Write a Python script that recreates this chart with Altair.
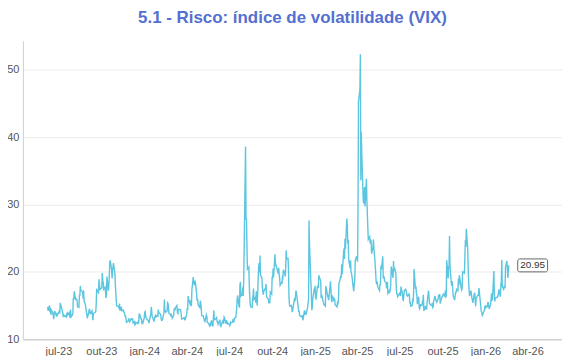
import altair as alt
import pandas as pd
import numpy as np

title_text = "5.1 - Risco: índice de volatilidade (VIX)"
first_day = "2023-06-08"
last_day = "2026-02-20"

month_pt = ["jan", "fev", "mar", "abr", "mai", "jun", "jul", "ago", "set", "out", "nov", "dez"]

vix_2023 = {
    "06": [14.8, 14.2, 15.0, 14.0, 14.6, 13.6, 14.3, 13.9, 13.5, 12.95, 13.8, 14.2, 13.6, 13.9, 13.4, 13.6, 13.7],
    "07": [14.2, 13.8, 15.4, 14.8, 14.9, 14.0, 13.5, 13.6, 13.4, 13.5, 13.3, 13.8, 13.9, 13.6, 13.9, 13.5, 13.2, 14.4, 13.3, 13.6],
    "08": [13.9, 16.1, 15.9, 17.1, 15.8, 16.0, 15.9, 15.8, 14.8, 14.7, 16.5, 16.5, 17.9, 17.3, 17.1, 16.9, 16.0, 17.2, 15.7, 15.1, 14.4, 14.0, 13.6],
    "09": [13.1, 14.0, 14.4, 14.4, 13.8, 13.8, 14.2, 13.5, 12.8, 13.8, 14.0, 14.1, 15.1, 17.5, 17.2, 16.9, 18.9, 18.2, 17.3, 17.5],
    "10": [17.6, 19.8, 18.6, 18.5, 17.4, 17.7, 17.0, 16.1, 16.7, 19.3, 17.2, 17.9, 19.2, 21.4, 21.7, 20.4, 19.0, 20.2, 20.7, 21.3, 19.8, 18.1],
    "11": [16.9, 15.7, 14.9, 14.9, 14.8, 14.5, 15.3, 14.2, 14.8, 14.2, 14.2, 14.3, 13.8, 13.4, 13.4, 12.9, 12.5, 12.7, 12.7, 13.0, 12.9],
    "12": [12.6, 13.0, 12.9, 12.9, 13.1, 12.4, 12.6, 12.1, 12.2, 12.5, 12.3, 12.6, 12.5, 13.7, 13.7, 13.0, 13.0, 12.4, 12.5, 12.4],
}

vix_2024 = {
    "01": [13.2, 14.0, 14.1, 13.4, 13.1, 12.8, 12.7, 12.4, 12.7, 13.8, 14.8, 14.1, 13.3, 13.2, 12.6, 13.1, 13.5, 13.3, 13.6, 13.3, 14.4],
    "02": [13.9, 13.9, 13.7, 13.1, 12.8, 12.8, 12.9, 13.9, 15.9, 14.4, 14.0, 14.2, 15.4, 15.3, 14.5, 13.8, 13.7, 13.4, 13.8, 13.4],
    "03": [13.1, 13.5, 14.5, 14.5, 14.4, 14.7, 15.0, 13.9, 13.8, 14.4, 14.4, 14.3, 13.8, 13.0, 13.0, 13.1, 13.2, 13.2, 12.8, 13.0],
    "04": [13.7, 14.6, 14.3, 16.4, 16.0, 15.2, 15.0, 15.8, 14.9, 17.3, 19.2, 18.4, 18.2, 18.0, 18.7, 16.9, 15.7, 16.0, 15.4, 15.0, 14.7, 15.7],
    "05": [15.4, 14.7, 13.5, 13.5, 13.2, 13.0, 12.7, 12.6, 13.6, 13.4, 12.5, 12.4, 12.0, 12.2, 11.9, 12.3, 12.8, 11.9, 12.9, 14.3, 13.0, 12.9],
    "06": [13.1, 13.2, 12.6, 12.6, 12.2, 12.7, 12.9, 12.0, 11.9, 12.7, 12.8, 12.3, 13.3, 13.2, 12.3, 12.8, 12.6, 12.2, 12.4],
    "07": [12.2, 12.0, 12.1, 12.5, 12.4, 12.5, 12.9, 12.9, 12.5, 13.1, 13.2, 14.5, 15.9, 16.5, 14.9, 14.7, 18.0, 18.5, 16.4, 16.6, 17.7, 16.4],
    "08": [18.6, 23.4, 38.6, 27.7, 27.9, 23.8, 20.4, 20.7, 18.1, 16.2, 15.2, 14.8, 14.7, 16.0, 16.3, 17.5, 15.9, 16.2, 15.4, 17.1, 15.7, 15.0],
    "09": [20.7, 21.3, 19.9, 22.4, 19.5, 19.1, 17.7, 17.1, 16.6, 17.1, 17.6, 18.2, 16.3, 16.2, 15.9, 15.4, 15.4, 15.4, 17.0, 16.7],
    "10": [19.3, 18.9, 20.5, 19.2, 22.6, 21.4, 20.9, 20.9, 20.5, 19.7, 20.6, 19.6, 19.1, 18.0, 18.4, 18.2, 19.2, 19.1, 20.3, 19.8, 19.3, 20.4, 23.2],
    "11": [21.9, 22.0, 20.5, 16.3, 15.2, 14.9, 15.0, 14.7, 14.0, 14.3, 16.1, 15.6, 16.4, 17.2, 16.9, 15.2, 14.6, 14.1, 14.1, 13.5],
    "12": [13.3, 13.3, 13.5, 13.5, 12.8, 14.2, 14.2, 13.6, 13.9, 13.8, 14.7, 15.9, 27.6, 24.1, 18.4, 16.8, 14.3, 14.7, 16.0, 17.4, 17.4],
}

vix_2025 = {
    "01": [17.9, 16.1, 16.0, 17.8, 17.7, 19.5, 19.2, 18.7, 16.1, 16.6, 16.0, 15.1, 15.1, 15.0, 14.9, 17.9, 16.4, 16.6, 15.8, 16.4],
    "02": [18.6, 17.2, 15.8, 15.5, 16.5, 15.8, 16.0, 15.9, 15.1, 14.8, 15.4, 15.3, 15.7, 18.2, 19.0, 19.4, 19.1, 21.1, 19.6],
    "03": [22.8, 23.5, 21.9, 24.9, 23.4, 27.9, 26.9, 24.2, 24.7, 21.8, 20.5, 21.7, 19.9, 19.8, 19.3, 17.5, 17.1, 18.3, 18.7, 21.7, 22.3],
    "04": [21.8, 21.5, 30.0, 45.3, 47.0, 52.3, 33.6, 40.7, 37.6, 30.9, 30.1, 32.6, 29.7, 33.8, 30.6, 28.5, 26.5, 24.8, 25.2, 24.2, 24.7],
    "05": [24.6, 22.7, 23.6, 24.8, 23.6, 22.5, 21.9, 18.4, 18.2, 18.6, 17.8, 17.2, 18.1, 18.1, 20.9, 20.3, 22.3, 19.0, 19.3, 19.2, 18.6],
    "06": [18.4, 17.7, 17.6, 18.5, 16.8, 17.2, 17.0, 17.3, 18.0, 20.8, 19.1, 21.6, 20.1, 20.6, 19.8, 17.5, 16.8, 16.6, 16.3, 16.7],
    "07": [16.8, 16.6, 16.4, 17.8, 16.8, 15.9, 15.8, 16.4, 17.2, 17.4, 17.2, 16.5, 16.4, 16.7, 16.5, 15.4, 15.4, 14.9, 15.0, 16.0, 15.5, 16.7],
    "08": [20.4, 17.5, 17.9, 16.8, 16.6, 15.2, 16.3, 14.7, 14.5, 14.8, 15.1, 15.0, 15.6, 15.7, 16.6, 14.2, 14.8, 14.6, 14.9, 14.4, 15.4],
    "09": [17.2, 16.4, 15.3, 15.2, 15.1, 15.0, 15.4, 14.7, 14.8, 15.7, 16.4, 15.7, 15.7, 15.5, 16.1, 16.6, 16.2, 16.7, 15.3, 16.1, 16.3],
    "10": [16.3, 16.6, 16.7, 16.4, 17.2, 16.3, 16.4, 21.7, 19.0, 20.8, 20.6, 25.3, 20.8, 18.2, 17.9, 18.6, 17.3, 16.4, 15.8, 16.4, 16.9, 16.9, 17.4],
    "11": [17.2, 19.0, 18.0, 19.5, 19.1, 17.6, 17.3, 17.5, 20.0, 19.8, 22.4, 24.7, 23.7, 26.4, 23.4, 20.5, 18.6, 17.2, 16.4],
    "12": [17.2, 16.6, 16.1, 15.8, 15.4, 16.7, 16.9, 15.8, 14.9, 16.0, 16.5, 16.5, 17.6, 16.9, 14.9, 14.1, 14.0, 13.5, 13.6, 14.2, 14.3, 15.0],
}

vix_2026 = {
    "01": [14.5, 14.9, 14.8, 15.4, 15.4, 14.5, 15.1, 15.9, 16.8, 15.8, 15.9, 20.1, 16.9, 15.6, 16.1, 16.2, 16.4, 16.4, 16.9, 17.4],
    "02": [16.3, 18.0, 18.6, 21.8, 17.8, 17.4, 17.8, 17.7, 20.8, 21.6, 20.4, 19.1, 20.2, 20.95],
}

rows = []
for year, table in [("2023", vix_2023), ("2024", vix_2024), ("2025", vix_2025), ("2026", vix_2026)]:
    for mm, vals in table.items():
        start = pd.Timestamp(f"{year}-{mm}-01")
        end = start + pd.offsets.MonthEnd(0)
        start = max(start, pd.Timestamp(first_day))
        end = min(end, pd.Timestamp(last_day))
        bd = pd.bdate_range(start, end)
        idx = np.round(np.linspace(0, len(bd) - 1, len(vals))).astype(int)
        for i, v in zip(idx, vals):
            rows.append({"date": bd[i].strftime("%Y-%m-%d"), "vix": v})

df = pd.DataFrame(rows)
last = df.tail(1).copy()
last["label"] = last["vix"].map(lambda v: f"{v:.2f}")

tick_dates = []
for y in [2023, 2024, 2025, 2026]:
    for m in [1, 4, 7, 10]:
        if (y, m) >= (2023, 7) and (y, m) <= (2026, 4):
            tick_dates.append(alt.DateTime(year=y, month=m, date=1, utc=True))

label_expr = ("['jan','fev','mar','abr','mai','jun','jul','ago','set','out','nov','dez']"
              "[utcmonth(datum.value)] + '-' + utcFormat(datum.value, '%y')")

x_scale = alt.Scale(type="utc", domain=[alt.DateTime(year=2023, month=4, date=16, utc=True),
                                        alt.DateTime(year=2026, month=6, date=14, utc=True)])
y_scale = alt.Scale(domain=[10, 54.3], nice=False, zero=False)

x_axis = alt.Axis(values=tick_dates, labelExpr=label_expr, title=None, grid=False, ticks=False,
                  domainColor="#d0d0d0", domainWidth=1.5, labelColor="#555555", labelFontSize=11,
                  labelPadding=6, labelFont="Liberation Sans", labelOverlap=False)
y_axis = alt.Axis(values=[10, 15, 20, 25, 30, 35, 40, 45, 50],
                  labelExpr="datum.value % 10 === 0 ? datum.label : ''",
                  title=None, ticks=False, gridColor="#ebebeb", domainColor="#d0d0d0",
                  labelColor="#555555", labelFontSize=11, labelPadding=4,
                  labelFont="Liberation Sans", labelOverlap=False)

base = alt.Chart(df)
line = base.mark_line(color="#5cc6e0", strokeWidth=1.4).encode(
    x=alt.X("date:T", scale=x_scale, axis=x_axis),
    y=alt.Y("vix:Q", scale=y_scale, axis=y_axis),
)

box = alt.Chart(last).mark_rect(fill="white", stroke="#666666", strokeWidth=1, cornerRadius=2,
                                xOffset=9, x2Offset=39, yOffset=-6.5, y2Offset=6.5).encode(
    x=alt.X("date:T", scale=x_scale), x2="date:T",
    y=alt.Y("vix:Q", scale=y_scale), y2="vix:Q",
)
txt = alt.Chart(last).mark_text(dx=24, fontSize=10, color="#333333", align="center",
                                baseline="middle", font="Liberation Sans").encode(
    x=alt.X("date:T", scale=x_scale), y=alt.Y("vix:Q", scale=y_scale), text="label:N",
)

chart = alt.layer(line, box, txt).properties(
    width=542, height=300,
    title=alt.TitleParams(text=title_text, fontSize=17, fontWeight="bold", color="#5470d0",
                          anchor="middle", offset=14, font="Liberation Sans"),
    autosize=alt.AutoSizeParams(type="none"),
    padding={"left": 15, "top": 32, "right": 0, "bottom": 16},
).configure_view(stroke=None)

chart.save("out.html", embed_options={"renderer": "svg", "actions": False})
